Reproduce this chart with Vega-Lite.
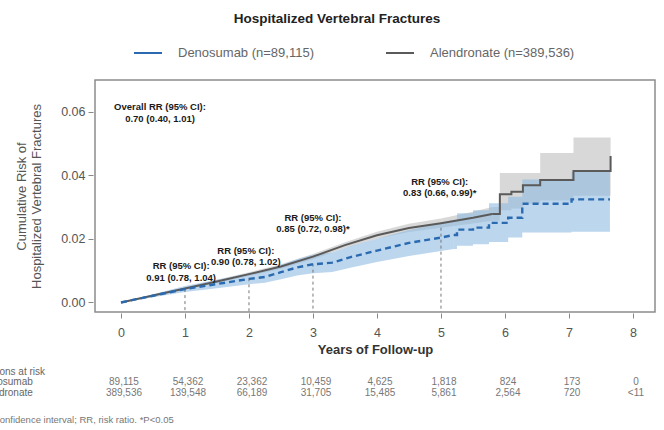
{
  "$schema": "https://vega.github.io/schema/vega-lite/v6.json",
  "autosize": {"type": "none"},
  "width": 560,
  "height": 232,
  "padding": {"left": 95, "top": 80, "right": 9, "bottom": 118},
  "background": "white",
  "config": {
    "font": "Liberation Sans",
    "view": {"stroke": "#8c8c8c", "strokeWidth": 1.5},
    "axis": {"grid": false, "domain": false, "tickColor": "#888888", "tickSize": 5, "labelColor": "#555555", "labelFontSize": 12.5, "labelFont": "Liberation Sans", "titleFont": "Liberation Sans"}
  },
  "title": {"text": "Hospitalized Vertebral Fractures", "fontSize": 13.5, "fontWeight": "bold", "color": "#222222", "frame": "group", "anchor": "middle", "dx": -38, "baseline": "middle", "offset": 6},
  "datasets": {
    "km": [
      {"drug": "Denosumab (n=89,115)", "t": 0, "risk": 0, "lo": 0, "hi": 0},
      {"drug": "Denosumab (n=89,115)", "t": 0.5, "risk": 0.0021, "lo": 0.0016, "hi": 0.0026},
      {"drug": "Denosumab (n=89,115)", "t": 1.0, "risk": 0.0042, "lo": 0.0033, "hi": 0.0052},
      {"drug": "Denosumab (n=89,115)", "t": 1.5, "risk": 0.0058, "lo": 0.0045, "hi": 0.0071},
      {"drug": "Denosumab (n=89,115)", "t": 2.0, "risk": 0.0074, "lo": 0.0057, "hi": 0.0092},
      {"drug": "Denosumab (n=89,115)", "t": 2.25, "risk": 0.0080, "lo": 0.0062, "hi": 0.0101},
      {"drug": "Denosumab (n=89,115)", "t": 2.5, "risk": 0.0095, "lo": 0.0073, "hi": 0.0118},
      {"drug": "Denosumab (n=89,115)", "t": 2.75, "risk": 0.011, "lo": 0.0085, "hi": 0.0136},
      {"drug": "Denosumab (n=89,115)", "t": 3.0, "risk": 0.012, "lo": 0.0092, "hi": 0.015},
      {"drug": "Denosumab (n=89,115)", "t": 3.3, "risk": 0.0125, "lo": 0.0096, "hi": 0.0157},
      {"drug": "Denosumab (n=89,115)", "t": 3.6, "risk": 0.0143, "lo": 0.011, "hi": 0.0178},
      {"drug": "Denosumab (n=89,115)", "t": 4.0, "risk": 0.0163, "lo": 0.0127, "hi": 0.02},
      {"drug": "Denosumab (n=89,115)", "t": 4.5, "risk": 0.0187, "lo": 0.0146, "hi": 0.0228},
      {"drug": "Denosumab (n=89,115)", "t": 5.0, "risk": 0.0204, "lo": 0.0162, "hi": 0.025},
      {"drug": "Denosumab (n=89,115)", "t": 5.2, "risk": 0.0212, "lo": 0.0168, "hi": 0.026},
      {"drug": "Denosumab (n=89,115)", "t": 5.25, "risk": 0.0229, "lo": 0.0178, "hi": 0.028},
      {"drug": "Denosumab (n=89,115)", "t": 5.5, "risk": 0.0235, "lo": 0.0183, "hi": 0.029},
      {"drug": "Denosumab (n=89,115)", "t": 5.75, "risk": 0.025, "lo": 0.019, "hi": 0.0312},
      {"drug": "Denosumab (n=89,115)", "t": 6.05, "risk": 0.0266, "lo": 0.0204, "hi": 0.0332},
      {"drug": "Denosumab (n=89,115)", "t": 6.27, "risk": 0.031, "lo": 0.022, "hi": 0.0386},
      {"drug": "Denosumab (n=89,115)", "t": 7.04, "risk": 0.0324, "lo": 0.0222, "hi": 0.041},
      {"drug": "Denosumab (n=89,115)", "t": 7.64, "risk": 0.0324, "lo": 0.0222, "hi": 0.041},
      {"drug": "Alendronate (n=389,536)", "t": 0, "risk": 0, "lo": 0, "hi": 0},
      {"drug": "Alendronate (n=389,536)", "t": 0.5, "risk": 0.0022, "lo": 0.0019, "hi": 0.0025},
      {"drug": "Alendronate (n=389,536)", "t": 1.0, "risk": 0.0044, "lo": 0.004, "hi": 0.0048},
      {"drug": "Alendronate (n=389,536)", "t": 1.5, "risk": 0.0066, "lo": 0.0061, "hi": 0.0071},
      {"drug": "Alendronate (n=389,536)", "t": 2.0, "risk": 0.0089, "lo": 0.0083, "hi": 0.0095},
      {"drug": "Alendronate (n=389,536)", "t": 2.5, "risk": 0.0113, "lo": 0.0106, "hi": 0.012},
      {"drug": "Alendronate (n=389,536)", "t": 3.0, "risk": 0.0144, "lo": 0.0136, "hi": 0.0152},
      {"drug": "Alendronate (n=389,536)", "t": 3.5, "risk": 0.018, "lo": 0.0171, "hi": 0.0189},
      {"drug": "Alendronate (n=389,536)", "t": 4.0, "risk": 0.0211, "lo": 0.02, "hi": 0.0222},
      {"drug": "Alendronate (n=389,536)", "t": 4.5, "risk": 0.0234, "lo": 0.0221, "hi": 0.0247},
      {"drug": "Alendronate (n=389,536)", "t": 5.0, "risk": 0.0249, "lo": 0.0235, "hi": 0.0264},
      {"drug": "Alendronate (n=389,536)", "t": 5.5, "risk": 0.0266, "lo": 0.0248, "hi": 0.0285},
      {"drug": "Alendronate (n=389,536)", "t": 5.8, "risk": 0.0278, "lo": 0.0257, "hi": 0.03},
      {"drug": "Alendronate (n=389,536)", "t": 5.92, "risk": 0.034, "lo": 0.029, "hi": 0.0407},
      {"drug": "Alendronate (n=389,536)", "t": 6.1, "risk": 0.0348, "lo": 0.0295, "hi": 0.0407},
      {"drug": "Alendronate (n=389,536)", "t": 6.28, "risk": 0.0368, "lo": 0.031, "hi": 0.0407},
      {"drug": "Alendronate (n=389,536)", "t": 6.55, "risk": 0.0385, "lo": 0.032, "hi": 0.047},
      {"drug": "Alendronate (n=389,536)", "t": 7.07, "risk": 0.0413, "lo": 0.0335, "hi": 0.0518},
      {"drug": "Alendronate (n=389,536)", "t": 7.65, "risk": 0.046, "lo": 0.0335, "hi": 0.0518}
    ],
    "marks": [
      {"t": 1, "v": 0.0042},
      {"t": 2, "v": 0.0076},
      {"t": 3, "v": 0.0122},
      {"t": 5, "v": 0.0235}
    ],
    "notes": [
      {"t": 0.61, "v": 0.0614, "txt": "Overall RR (95% CI):\n0.70 (0.40, 1.01)"},
      {"t": 0.94, "v": 0.01145, "txt": "RR (95% CI):\n0.91 (0.78, 1.04)"},
      {"t": 1.95, "v": 0.01632, "txt": "RR (95% CI):\n0.90 (0.78, 1.02)"},
      {"t": 3.0, "v": 0.02669, "txt": "RR (95% CI):\n0.85 (0.72, 0.98)*"},
      {"t": 4.98, "v": 0.03785, "txt": "RR (95% CI):\n0.83 (0.66, 0.99)*"}
    ],
    "atrisk": [
      {"grp": "Denosumab", "t": 0, "n": "89,115"},
      {"grp": "Denosumab", "t": 1, "n": "54,362"},
      {"grp": "Denosumab", "t": 2, "n": "23,362"},
      {"grp": "Denosumab", "t": 3, "n": "10,459"},
      {"grp": "Denosumab", "t": 4, "n": "4,625"},
      {"grp": "Denosumab", "t": 5, "n": "1,818"},
      {"grp": "Denosumab", "t": 6, "n": "824"},
      {"grp": "Denosumab", "t": 7, "n": "173"},
      {"grp": "Denosumab", "t": 8, "n": "0"},
      {"grp": "Alendronate", "t": 0, "n": "389,536"},
      {"grp": "Alendronate", "t": 1, "n": "139,548"},
      {"grp": "Alendronate", "t": 2, "n": "66,189"},
      {"grp": "Alendronate", "t": 3, "n": "31,705"},
      {"grp": "Alendronate", "t": 4, "n": "15,485"},
      {"grp": "Alendronate", "t": 5, "n": "5,861"},
      {"grp": "Alendronate", "t": 6, "n": "2,564"},
      {"grp": "Alendronate", "t": 7, "n": "720"},
      {"grp": "Alendronate", "t": 8, "n": "<11"}
    ],
    "rowpos": [
      {"grp": "Persons at risk", "xl": -2.22, "v": -0.02185},
      {"grp": "Denosumab", "xl": -2.22, "v": -0.02515},
      {"grp": "Alendronate", "xl": -2.22, "v": -0.0283}
    ],
    "foot": [
      {"note": "CI, confidence interval; RR, risk ratio. *P<0.05", "xl": -2.2, "v": -0.0369}
    ]
  },
  "encoding": {
    "x": {
      "field": "t", "type": "quantitative",
      "scale": {"domain": [-0.406, 8.344], "nice": false, "zero": false},
      "axis": {"values": [0, 1, 2, 3, 4, 5, 6, 7, 8], "format": "d", "offset": 1, "labelPadding": 8, "title": "Years of Follow-up", "titleFontSize": 13, "titleFontWeight": "bold", "titleColor": "#333333", "titlePadding": 5}
    },
    "y": {
      "field": "risk", "type": "quantitative",
      "scale": {"domain": [-0.003, 0.0699], "nice": false, "zero": false},
      "axis": {"values": [0, 0.02, 0.04, 0.06], "format": ".2f", "offset": 2, "labelPadding": 3, "title": ["Cumulative Risk of", "Hospitalized Vertebral Fractures"], "titleFontSize": 13, "titleFontWeight": "normal", "titleColor": "#555555", "titlePadding": 17, "titleLineHeight": 15}
    }
  },
  "layer": [
    {
      "data": {"name": "km"},
      "transform": [{"filter": "datum.drug[0] === 'A' && datum.t <= 5.8"}],
      "mark": {"type": "area", "interpolate": "linear", "color": "#d6d6d6", "opacity": 0.95},
      "encoding": {"y": {"field": "lo", "type": "quantitative"}, "y2": {"field": "hi"}}
    },
    {
      "data": {"name": "km"},
      "transform": [{"filter": "datum.drug[0] === 'A' && datum.t >= 5.8"}],
      "mark": {"type": "area", "interpolate": "step-after", "color": "#d6d6d6", "opacity": 0.95},
      "encoding": {"y": {"field": "lo", "type": "quantitative"}, "y2": {"field": "hi"}}
    },
    {
      "data": {"name": "km"},
      "transform": [{"filter": "datum.drug[0] === 'D' && datum.t <= 5.2"}],
      "mark": {"type": "area", "interpolate": "linear", "color": "#8fbbe3", "opacity": 0.6},
      "encoding": {"y": {"field": "lo", "type": "quantitative"}, "y2": {"field": "hi"}}
    },
    {
      "data": {"name": "km"},
      "transform": [{"filter": "datum.drug[0] === 'D' && datum.t >= 5.2"}],
      "mark": {"type": "area", "interpolate": "step-after", "color": "#8fbbe3", "opacity": 0.6},
      "encoding": {"y": {"field": "lo", "type": "quantitative"}, "y2": {"field": "hi"}}
    },
    {
      "data": {"name": "marks"},
      "mark": {"type": "rule", "color": "#777777", "strokeWidth": 1, "strokeDash": [3, 3]},
      "encoding": {"y": {"field": "v", "type": "quantitative"}, "y2": {"datum": -0.003}}
    },
    {
      "data": {"name": "km"},
      "transform": [{"filter": "datum.drug[0] === 'A' && datum.t <= 5.8"}],
      "mark": {"type": "line", "interpolate": "linear", "strokeWidth": 2},
      "encoding": {
        "color": {
          "field": "drug", "type": "nominal",
          "scale": {"domain": ["Denosumab (n=89,115)", "Alendronate (n=389,536)"], "range": ["#2a6ab0", "#5a5a5a"]},
          "legend": {"orient": "none", "legendX": 38, "legendY": -42, "direction": "horizontal", "title": null, "symbolType": "stroke", "symbolSize": 784, "symbolStrokeWidth": 2, "labelFontSize": 13, "labelColor": "#666666", "labelOffset": 15, "columnPadding": 68, "labelLimit": 300,
            "encode": {"symbols": {"update": {"strokeDash": {"value": [1, 0]}}}}}
        }
      }
    },
    {
      "data": {"name": "km"},
      "transform": [{"filter": "datum.drug[0] === 'A' && datum.t >= 5.8"}],
      "mark": {"type": "line", "interpolate": "step-after", "strokeWidth": 2},
      "encoding": {"color": {"field": "drug", "type": "nominal"}}
    },
    {
      "data": {"name": "km"},
      "transform": [{"filter": "datum.drug[0] === 'D' && datum.t <= 5.2"}],
      "mark": {"type": "line", "interpolate": "linear", "strokeWidth": 2.4, "strokeDash": [6, 4]},
      "encoding": {"color": {"field": "drug", "type": "nominal"}}
    },
    {
      "data": {"name": "km"},
      "transform": [{"filter": "datum.drug[0] === 'D' && datum.t >= 5.2"}],
      "mark": {"type": "line", "interpolate": "step-after", "strokeWidth": 2.4, "strokeDash": [6, 4]},
      "encoding": {"color": {"field": "drug", "type": "nominal"}}
    },
    {
      "data": {"name": "notes"},
      "mark": {"type": "text", "fontSize": 9.5, "fontWeight": "bold", "color": "#1a1a1a", "lineBreak": "\n", "lineHeight": 11.5, "align": "center", "baseline": "middle"},
      "encoding": {"y": {"field": "v", "type": "quantitative"}, "text": {"field": "txt"}}
    },
    {
      "data": {"name": "atrisk"},
      "transform": [{"lookup": "grp", "from": {"data": {"name": "rowpos"}, "key": "grp", "fields": ["v"]}}],
      "mark": {"type": "text", "fontSize": 10, "color": "#777777", "align": "center", "baseline": "middle", "dx": 3},
      "encoding": {"y": {"field": "v", "type": "quantitative"}, "text": {"field": "n"}}
    },
    {
      "data": {"name": "rowpos"},
      "mark": {"type": "text", "fontSize": 10, "color": "#666666", "align": "left", "baseline": "middle"},
      "encoding": {"x": {"field": "xl", "type": "quantitative"}, "y": {"field": "v", "type": "quantitative"}, "text": {"field": "grp"}}
    },
    {
      "data": {"name": "foot"},
      "mark": {"type": "text", "fontSize": 9.5, "color": "#777777", "align": "left", "baseline": "middle"},
      "encoding": {"x": {"field": "xl", "type": "quantitative"}, "y": {"field": "v", "type": "quantitative"}, "text": {"field": "note"}}
    }
  ]
}
